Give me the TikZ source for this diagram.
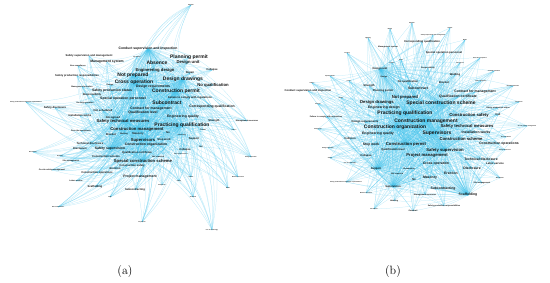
\documentclass[tikz,border=0pt]{standalone}
\usepackage{fontspec}
\setsansfont{Liberation Sans}
\usetikzlibrary{backgrounds}

\definecolor{edgecyan}{RGB}{70,195,235}
\definecolor{kwtext}{RGB}{20,20,20}

% hubs and keywords of each network
\newcommand{\ahubs}{a-notprep,a-permit,a-consmgmt,a-supervisors,a-special,a-techmeas,a-practqual,a-crossop,a-drawings,a-conduct,a-safesup}
\newcommand{\anodes}{a-conduct,a-supmgmt,a-mgmtsys,a-noncompl,a-respons,a-mgmtsit,a-prodstat,a-resp,a-specop,a-onduty,a-prodmgmt,a-safedisc,a-notsched,a-contract,a-quallevel,a-install,a-notagreed,a-techmeas,a-practqual,a-engqual,a-strength,a-mgmtmeas,a-corrqual,a-subcon,a-failure,a-permit,a-designreq,a-noqual,a-drawings,a-crossop,a-design,a-repair,a-collapse,a-engdesign,a-notprep,a-absence,a-designunit,a-planning,a-formal,a-supplier,a-consmgmt,a-bracket,a-welding,a-masonry,a-accept,a-supervisors,a-stopwork,a-no,a-techdisc,a-consorg,a-disc,a-safesup,a-qualcert,a-consscheme,a-notrep,a-special,a-conssafety,a-erection,a-consops,a-projmgmt,a-labor,a-scaffold,a-subcontr,a-high,a-renov,a-hoist,a-sitemgmt,a-onsite,a-nonconf,a-support,a-crane,a-collapse2,a-fall,a-survey,a-dismant,a-cables,a-bridge,a-material,a-brake,a-safety,a-anchor,a-danger,a-guard,a-inspect,a-usetech}
\newcommand{\bhubs}{b-special,b-consmgmt,b-practqual,b-supervisors,b-designunit,b-support,b-supervision,b-scaffold,b-consorg,b-safesup,b-permit}
\newcommand{\bnodes}{b-supplier,b-bridge,b-lighting,b-mgmtsys,b-corrqual,b-leasing,b-designunit,b-design,b-spec,b-fence,b-strength,b-planning,b-cables,b-conduct,b-repair,b-defects,b-failure,b-designreq,b-drawings,b-engdesign,b-practqual,b-consmgmt,b-consorg,b-notprep,b-special,b-subcon,b-noqual,b-report,b-crane,b-respons,b-specop,b-bracket,b-welding,b-notagreed,b-accept,b-supmgmt,b-brake,b-anchor,b-onduty,b-noncompl,b-buildmat,b-contract,b-qualcert,b-prodstat,b-inspect,b-conssafety,b-fall,b-techmeas,b-onsite,b-supervisors,b-install,b-notsched,b-consscheme,b-consops,b-permit,b-safedisc,b-safesup,b-projmgmt,b-quallevel,b-stopwork,b-collapse,b-collision,b-engqual,b-techdisc,b-labor,b-crossop,b-disc,b-erection,b-renov,b-masonry,b-sitemgmt,b-no,b-subcontr,b-scaffold,b-mgmtmeas,b-respons2,b-guard,b-support,b-supervision,b-notrep,b-dismant,b-hoist,b-formal,b-material,b-prodmgmt,b-usetech,b-bridgeop,b-safety,b-danger}

\begin{document}
\begin{tikzpicture}[
  x=1pt, y=-1pt,
  kw/.style={inner sep=0pt, text=kwtext},
  kwA/.style={kw, font=\sffamily\bfseries\fontsize{5}{5}\selectfont},
  kwB/.style={kw, font=\sffamily\bfseries\fontsize{4.2}{4.2}\selectfont},
  kwC/.style={kw, font=\sffamily\bfseries\fontsize{3.4}{3.4}\selectfont},
  kwD/.style={kw, font=\sffamily\bfseries\fontsize{2.7}{2.7}\selectfont},
  kwE/.style={kw, font=\sffamily\bfseries\fontsize{2}{2}\selectfont},
  kwF/.style={kw, font=\sffamily\bfseries\fontsize{1.4}{1.4}\selectfont},
  link/.style={draw=edgecyan, line width=0.25pt, opacity=0.38},
  caption/.style={font=\fontsize{12}{12}\selectfont},
]
\useasboundingbox (0,0) rectangle (550,283);

% === (a) upper part ===
\node[kwC] (a-conduct) at (148,49) {Conduct supervision and inspection};
\node[kwD] (a-supmgmt) at (89,56) {Safety supervision and management};
\node[kwC] (a-mgmtsys) at (107,62) {Management system};
\node[kwE] (a-noncompl) at (78,66) {Non-compliance};
\node[kwD] (a-respons) at (77,76) {Safety production responsibilities};
\node[kwE] (a-mgmtsit) at (82,87) {Management situation};
\node[kwC] (a-prodstat) at (112,91) {Safety production status};
\node[kwD] (a-resp) at (92,95) {Responsibility};
\node[kwC] (a-specop) at (123,99) {Special operation personnel};
\node[kwE] (a-onduty) at (85,103) {On duty operation};
\node[kwF] (a-prodmgmt) at (26,102) {Safety production management responsibilities};
\node[kwD] (a-safedisc) at (55,108) {Safety disclosure};
\node[kwD] (a-notsched) at (103,111) {Not scheduled};
\node[kwC] (a-contract) at (151,109) {Contract for management};
\node[kwC] (a-quallevel) at (143,113) {Qualification level};
\node[kwD] (a-install) at (80,116) {Installation works};
\node[kwD] (a-notagreed) at (113,118) {Not agreed};
\node[kwB] (a-techmeas) at (123,121) {Safety technical measures};
\node[kwA] (a-practqual) at (182,125) {Practicing qualification};
\node[kwC] (a-engqual) at (183,117) {Engineering quality};
\node[kwD] (a-strength) at (214,121) {Strength};
\node[kwE] (a-mgmtmeas) at (247,121) {Management measures};
\node[kwC] (a-corrqual) at (212,107) {Corresponding qualification};
\node[kwA] (a-subcon) at (167,103) {Subcontract};
\node[kwD] (a-failure) at (190,98) {Failure to comply with regulations};
\node[kwA] (a-permit) at (176,91) {Construction permit};
\node[kwC] (a-designreq) at (153,87) {Design requirements};
\node[kwB] (a-noqual) at (213,85) {No qualification};
\node[kwA] (a-drawings) at (183,79) {Design drawings};
\node[kwA] (a-crossop) at (134,82) {Cross operation};
\node[kwE] (a-design) at (110,85) {Design};
\node[kwD] (a-repair) at (190,73) {Repair};
\node[kwD] (a-collapse) at (212,70) {Collapse};
\node[kwB] (a-engdesign) at (155,70) {Engineering design};
\node[kwA] (a-notprep) at (133,75) {Not prepared};
\node[kwA] (a-absence) at (157,63) {Absence};
\node[kwB] (a-designunit) at (188,62) {Design unit};
\node[kwA] (a-planning) at (189,57) {Planning permit};
\node[kwF] (a-formal) at (137,57) {Formalities};
\node[kwF] (a-supplier) at (191,5) {Supplier};

% === (a) lower part ===
\node[kwB] (a-consmgmt) at (137,129) {Construction management};
\node[kwD] (a-bracket) at (111,135) {Bracket};
\node[kwE] (a-welding) at (124,134) {Welding};
\node[kwD] (a-masonry) at (138,134) {Masonry};
\node[kwE] (a-accept) at (81,131) {Pass the acceptance};
\node[kwB] (a-supervisors) at (143,140) {Supervisors};
\node[kwD] (a-stopwork) at (164,140) {Stop work};
\node[kwD] (a-no) at (168,133) {No};
\node[kwD] (a-techdisc) at (90,144) {Technical disclosure};
\node[kwC] (a-consorg) at (146,145) {Construction organization};
\node[kwD] (a-disc) at (80,149) {Disclosure};
\node[kwC] (a-safesup) at (110,149) {Safety supervision};
\node[kwD] (a-qualcert) at (137,153) {Qualification certificate};
\node[kwD] (a-consscheme) at (106,157) {Construction scheme};
\node[kwE] (a-notrep) at (158,157) {Not reported};
\node[kwB] (a-special) at (143,161) {Special construction scheme};
\node[kwD] (a-conssafety) at (132,166) {Construction safety};
\node[kwD] (a-erection) at (115,169) {Erection};
\node[kwD] (a-consops) at (97,173) {Construction operations};
\node[kwC] (a-projmgmt) at (140,177) {Project management};
\node[kwE] (a-labor) at (76,181) {Labor service};
\node[kwD] (a-scaffold) at (95,187) {Scaffolding};
\node[kwD] (a-subcontr) at (135,190) {Subcontracting};
\node[kwF] (a-high) at (110,197) {High};
\node[kwF] (a-renov) at (33,152) {Renovation};
\node[kwF] (a-hoist) at (60,156) {Hoisting};
\node[kwE] (a-sitemgmt) at (71,161) {Site management};
\node[kwE] (a-onsite) at (52,170) {On-site safety management};
\node[kwF] (a-nonconf) at (58,207) {Non-conformance};
\node[kwD] (a-support) at (194,139) {Support};
\node[kwE] (a-crane) at (203,130) {Crane};
\node[kwD] (a-collapse2) at (185,150) {Collapse};
\node[kwE] (a-fall) at (201,147) {Fall};
\node[kwF] (a-survey) at (181,154) {Surveying measures};
\node[kwF] (a-dismant) at (182,135) {Dismantling};
\node[kwF] (a-cables) at (234,130) {Cables};
\node[kwF] (a-bridge) at (251,157) {Bridge operation};
\node[kwF] (a-material) at (238,177) {Material selection};
\node[kwF] (a-brake) at (228,188) {Brake};
\node[kwF] (a-safety) at (179,181) {Safety};
\node[kwF] (a-anchor) at (191,177) {Anchor};
\node[kwF] (a-danger) at (162,185) {Dangerous};
\node[kwF] (a-guard) at (193,197) {Guardrail};
\node[kwF] (a-inspect) at (142,222) {Inspection};
\node[kwF] (a-usetech) at (212,230) {Use of technology};

% === (b) upper part ===
\node[kwF] (b-supplier) at (412,23) {Supplier};
\node[kwF] (b-bridge) at (390,29) {Bridge};
\node[kwF] (b-lighting) at (368,38) {Lighting};
\node[kwE] (b-mgmtsys) at (388,47) {Management system};
\node[kwD] (b-corrqual) at (422,42) {Corresponding qualification};
\node[kwF] (b-leasing) at (347,53) {Leasing};
\node[kwD] (b-designunit) at (380,69) {Design unit};
\node[kwE] (b-design) at (384,77) {Design};
\node[kwF] (b-spec) at (330,76) {Specifications};
\node[kwF] (b-fence) at (349,81) {Fence};
\node[kwD] (b-strength) at (369,86) {Strength};
\node[kwD] (b-planning) at (383,91) {Planning permit};
\node[kwF] (b-cables) at (312,83) {Cables};
\node[kwD] (b-conduct) at (308,91) {Conduct supervision and inspection};
\node[kwF] (b-repair) at (341,98) {Repair};
\node[kwF] (b-defects) at (318,104) {Defects};
\node[kwE] (b-failure) at (326,117) {Failure to comply with regulations};
\node[kwD] (b-designreq) at (365,122) {Design requirements};
\node[kwB] (b-drawings) at (377,102) {Design drawings};
\node[kwC] (b-engdesign) at (384,108) {Engineering design};
\node[kwA] (b-practqual) at (405,113) {Practicing qualification};
\node[kwA] (b-consmgmt) at (426,121) {Construction management};
\node[kwA] (b-consorg) at (395,127) {Construction organization};
\node[kwB] (b-notprep) at (405,97) {Not prepared};
\node[kwA] (b-special) at (441,103) {Special construction scheme};
\node[kwC] (b-subcon) at (418,88) {Subcontract};
\node[kwD] (b-noqual) at (408,82) {No qualification};
\node[kwF] (b-report) at (392,63) {Report};
\node[kwF] (b-crane) at (401,60) {Crane};
\node[kwE] (b-respons) at (428,68) {Responsibility};
\node[kwD] (b-specop) at (444,53) {Special operation personnel};
\node[kwD] (b-bracket) at (444,83) {Bracket};
\node[kwD] (b-welding) at (455,75) {Welding};
\node[kwF] (b-notagreed) at (460,63) {Not agreed};
\node[kwF] (b-accept) at (480,58) {Pass the acceptance};
\node[kwF] (b-supmgmt) at (433,35) {Safety supervision and management};
\node[kwF] (b-brake) at (465,40) {Brake};
\node[kwF] (b-anchor) at (450,28) {Anchor};
\node[kwF] (b-onduty) at (494,71) {On duty operation};
\node[kwF] (b-noncompl) at (481,81) {Non-compliance};
\node[kwF] (b-buildmat) at (513,86) {Building materials};
\node[kwC] (b-contract) at (475,92) {Contract for management};
\node[kwC] (b-qualcert) at (458,97) {Qualification certificate};
\node[kwE] (b-prodstat) at (498,108) {Safety production status};
\node[kwF] (b-inspect) at (519,102) {Inspection};
\node[kwB] (b-conssafety) at (469,115) {Construction safety};
\node[kwD] (b-fall) at (498,115) {Fall};
\node[kwB] (b-techmeas) at (467,126) {Safety technical measures};
\node[kwF] (b-onsite) at (527,126) {On-site safety management};

% === (b) lower part ===
\node[kwA] (b-supervisors) at (437,133) {Supervisors};
\node[kwC] (b-install) at (476,132) {Installation works};
\node[kwF] (b-notsched) at (506,137) {Not scheduled};
\node[kwB] (b-consscheme) at (461,139) {Construction scheme};
\node[kwC] (b-consops) at (499,144) {Construction operations};
\node[kwB] (b-permit) at (406,144) {Construction permit};
\node[kwF] (b-safedisc) at (505,150) {Safety disclosure};
\node[kwB] (b-safesup) at (445,150) {Safety supervision};
\node[kwB] (b-projmgmt) at (427,155) {Project management};
\node[kwD] (b-quallevel) at (393,150) {Qualification level};
\node[kwC] (b-stopwork) at (371,145) {Stop work};
\node[kwD] (b-collapse) at (366,156) {Collapse};
\node[kwD] (b-collision) at (350,139) {Collision};
\node[kwC] (b-engqual) at (378,134) {Engineering quality};
\node[kwC] (b-techdisc) at (481,159) {Technical disclosure};
\node[kwD] (b-labor) at (495,164) {Labor service};
\node[kwC] (b-crossop) at (436,164) {Cross operation};
\node[kwC] (b-disc) at (472,168) {Disclosure};
\node[kwC] (b-erection) at (451,173) {Erection};
\node[kwF] (b-renov) at (500,178) {Renovation};
\node[kwC] (b-masonry) at (430,178) {Masonry};
\node[kwE] (b-sitemgmt) at (482,183) {Site management};
\node[kwD] (b-no) at (414,180) {No};
\node[kwC] (b-subcontr) at (443,189) {Subcontracting};
\node[kwC] (b-scaffold) at (468,195) {Scaffolding};
\node[kwE] (b-mgmtmeas) at (425,195) {Management measures};
\node[kwE] (b-respons2) at (444,206) {Safety production responsibilities};
\node[kwE] (b-guard) at (413,211) {Guardrail};
\node[kwD] (b-support) at (376,169) {Support};
\node[kwD] (b-supervision) at (393,187) {Supervision};
\node[kwE] (b-notrep) at (397,174) {Not reported};
\node[kwE] (b-dismant) at (409,169) {Dismantling};
\node[kwE] (b-hoist) at (394,201) {Hoisting};
\node[kwF] (b-formal) at (374,209) {Formalities};
\node[kwF] (b-material) at (366,193) {Material selection};
\node[kwF] (b-prodmgmt) at (346,182) {Safety production management responsibilities};
\node[kwF] (b-usetech) at (350,163) {Use of technology};
\node[kwF] (b-bridgeop) at (328,148) {Bridge operation};
\node[kwF] (b-safety) at (330,158) {Safety};
\node[kwF] (b-danger) at (318,129) {Dangerous};

% === co-occurrence links ===
\begin{scope}[on background layer]
  \foreach \h in \ahubs {
    \foreach \n in \anodes {
      \ifx\h\n\else
        \draw[link] (\h.center) to[bend left=22] (\n.center);
      \fi
    }
  }
  \foreach \h in \bhubs {
    \foreach \n in \bnodes {
      \ifx\h\n\else
        \draw[link] (\h.center) to[bend left=6] (\n.center);
      \fi
    }
  }
\end{scope}

% === captions ===
\node[caption] (cap-a) at (125,272) {(a)};
\node[caption] (cap-b) at (393,272) {(b)};

\end{tikzpicture}
\end{document}
